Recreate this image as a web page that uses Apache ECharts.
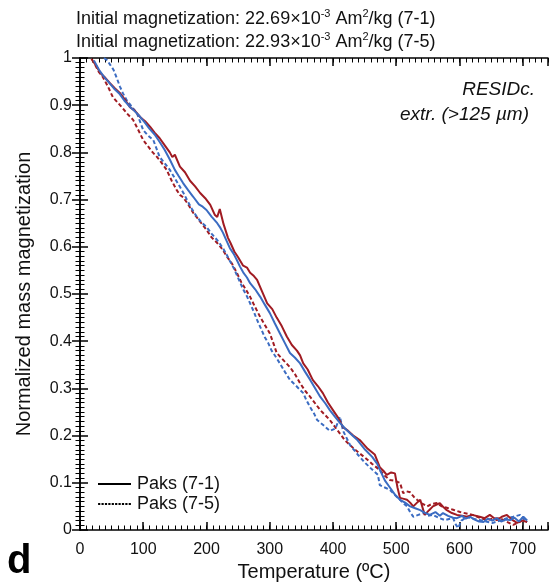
<!DOCTYPE html>
<html>
<head>
<meta charset="utf-8">
<script src="https://cdn.jsdelivr.net/npm/echarts@6/dist/echarts.min.js"></script>
<style>html,body{margin:0;padding:0;background:#fff;}#chart{width:553px;height:584px;}</style>
</head>
<body>
<div id="chart"></div>
<script>
// ---- data (temperature °C, normalized mass magnetization) ----
const paks71Red = [[18,0.998],[25,0.985],[32,0.968],[40,0.958],[47,0.947],[55,0.936],[63,0.926],[71,0.912],[79,0.896],[87,0.888],[95,0.875],[103,0.866],[111,0.854],[118,0.842],[126,0.83],[134,0.815],[142,0.8],[146,0.79],[150,0.795],[158,0.77],[166,0.758],[174,0.74],[182,0.728],[190,0.714],[198,0.703],[206,0.689],[213,0.668],[217,0.663],[221,0.68],[224,0.676],[227,0.648],[234,0.619],[238,0.608],[244,0.59],[250,0.578],[258,0.56],[264,0.556],[269,0.545],[275,0.538],[280,0.53],[288,0.505],[296,0.48],[304,0.468],[311,0.45],[319,0.432],[327,0.41],[335,0.392],[343,0.38],[348,0.37],[353,0.353],[360,0.34],[368,0.318],[376,0.305],[384,0.29],[392,0.27],[400,0.254],[408,0.238],[416,0.218],[424,0.21],[432,0.2],[443,0.19],[455,0.172],[466,0.16],[474,0.133],[480,0.125],[485,0.117],[492,0.122],[498,0.12],[502,0.09],[506,0.068],[512,0.066],[517,0.064],[522,0.058],[527,0.05],[533,0.058],[538,0.064],[545,0.032],[552,0.042],[558,0.05],[564,0.054],[569,0.057],[575,0.048],[580,0.042],[588,0.036],[596,0.032],[604,0.03],[612,0.028],[620,0.032],[632,0.028],[640,0.025],[648,0.032],[654,0.026],[659,0.021],[667,0.028],[675,0.032],[683,0.022],[691,0.015],[699,0.02],[707,0.017]];
const paks71Blue = [[22,0.995],[30,0.975],[38,0.96],[46,0.948],[54,0.935],[62,0.925],[70,0.91],[78,0.898],[86,0.888],[94,0.877],[102,0.864],[110,0.85],[118,0.838],[126,0.822],[134,0.805],[142,0.785],[150,0.763],[156,0.75],[163,0.735],[171,0.72],[179,0.706],[188,0.69],[194,0.685],[200,0.678],[208,0.664],[217,0.65],[222,0.64],[226,0.63],[232,0.612],[237,0.597],[243,0.585],[248,0.572],[253,0.558],[258,0.546],[264,0.535],[269,0.523],[277,0.51],[285,0.494],[292,0.478],[300,0.46],[308,0.438],[316,0.417],[324,0.396],[332,0.375],[340,0.365],[348,0.353],[356,0.335],[364,0.318],[372,0.3],[380,0.282],[388,0.268],[395,0.254],[403,0.24],[411,0.227],[419,0.215],[427,0.205],[439,0.19],[451,0.17],[462,0.155],[470,0.14],[474,0.128],[482,0.105],[490,0.09],[498,0.075],[506,0.064],[514,0.058],[522,0.05],[530,0.046],[538,0.042],[546,0.036],[553,0.032],[562,0.038],[569,0.03],[574,0.036],[582,0.03],[590,0.026],[596,0.025],[604,0.03],[610,0.024],[617,0.028],[624,0.022],[631,0.018],[638,0.017],[645,0.024],[652,0.02],[659,0.025],[666,0.018],[673,0.022],[680,0.021],[687,0.026],[694,0.018],[701,0.028],[707,0.02]];
const paks75Red = [[24,0.985],[30,0.97],[36,0.96],[44,0.94],[52,0.917],[60,0.905],[68,0.893],[74,0.883],[84,0.869],[92,0.848],[100,0.826],[108,0.812],[115,0.8],[122,0.79],[130,0.776],[137,0.763],[145,0.74],[153,0.72],[158,0.71],[163,0.705],[171,0.69],[179,0.672],[186,0.66],[193,0.648],[200,0.636],[208,0.62],[217,0.608],[225,0.595],[232,0.58],[240,0.565],[248,0.545],[255,0.525],[262,0.51],[269,0.494],[277,0.472],[285,0.451],[292,0.435],[300,0.417],[306,0.395],[311,0.375],[318,0.365],[325,0.355],[332,0.345],[340,0.33],[348,0.311],[356,0.295],[364,0.282],[372,0.268],[380,0.254],[388,0.243],[395,0.233],[405,0.215],[419,0.19],[435,0.17],[451,0.153],[462,0.14],[474,0.127],[482,0.115],[490,0.106],[498,0.104],[506,0.1],[511,0.078],[516,0.082],[522,0.08],[528,0.07],[533,0.064],[541,0.056],[549,0.05],[556,0.055],[564,0.057],[572,0.05],[580,0.047],[590,0.043],[601,0.038],[611,0.035],[621,0.032],[632,0.026],[643,0.021],[653,0.024],[664,0.025],[674,0.018],[685,0.011],[693,0.016],[701,0.021]];
const paks75Blue = [[38,1.0],[43,0.995],[48,0.985],[53,0.975],[58,0.958],[63,0.94],[68,0.925],[74,0.91],[82,0.897],[90,0.883],[95,0.865],[100,0.847],[108,0.835],[116,0.826],[121,0.808],[126,0.79],[134,0.777],[142,0.763],[150,0.745],[158,0.727],[164,0.713],[169,0.7],[177,0.68],[185,0.663],[192,0.652],[200,0.642],[208,0.628],[217,0.614],[222,0.605],[227,0.595],[232,0.583],[237,0.57],[243,0.555],[248,0.54],[253,0.525],[258,0.51],[264,0.495],[269,0.48],[275,0.462],[280,0.445],[286,0.427],[292,0.409],[298,0.395],[303,0.38],[310,0.366],[316,0.353],[324,0.335],[332,0.318],[342,0.305],[353,0.29],[358,0.275],[364,0.26],[370,0.247],[375,0.233],[385,0.222],[395,0.21],[404,0.215],[411,0.24],[416,0.21],[427,0.18],[439,0.16],[451,0.142],[462,0.128],[471,0.117],[474,0.095],[482,0.09],[490,0.085],[498,0.074],[506,0.064],[512,0.056],[517,0.05],[522,0.038],[527,0.028],[535,0.032],[543,0.036],[550,0.03],[558,0.032],[567,0.026],[577,0.021],[585,0.024],[590,0.025],[594,0.012],[598,0.004],[603,0.02],[612,0.028],[622,0.024],[632,0.021],[642,0.018],[653,0.015],[664,0.02],[675,0.025],[685,0.028],[696,0.032],[701,0.024],[707,0.017]];

const legendNames = ['Paks (7-1)', 'Paks (7-5)'];
const titleLines = [
  ['Initial magnetization: 22.69×10', '-3', ' Am', '2', '/kg (7-1)'],
  ['Initial magnetization: 22.93×10', '-3', ' Am', '2', '/kg (7-5)']
];
const sampleLabel = ['RESIDc.', 'extr. (>125 µm)'];
const xName = 'Temperature (ºC)';
const yName = 'Normalized mass magnetization';
const panelLetter = 'd';

// ---- styling ----
const FONT = '"Liberation Sans", Arial, Helvetica, sans-serif';
const RED = '#a01b22';
const BLUE = '#3b6cc2';
const INK = '#111';
const DASH = [4, 2.5];
const DOTTED_ICON = 'path://M0,0h2.2v2h-2.2zM3.4,0h2.2v2h-2.2zM6.8,0h2.2v2h-2.2zM10.2,0h2.2v2h-2.2zM13.6,0h2.2v2h-2.2zM17,0h2.2v2h-2.2zM20.4,0h2.2v2h-2.2zM23.8,0h2.2v2h-2.2zM27.2,0h2.2v2h-2.2zM30.6,0h2.2v2h-2.2z';

const chart = echarts.init(document.getElementById('chart'), null, {renderer: 'canvas'});

function titleText(parts) {
  return '{t|' + parts[0] + '}{s|' + parts[1] + '}{t|' + parts[2] + '}{s|' + parts[3] + '}{t|' + parts[4] + '}';
}
const titleRich = {
  t: {fontSize: 18, fontWeight: 'normal', fontFamily: FONT, color: INK, lineHeight: 22, verticalAlign: 'middle'},
  s: {fontSize: 11, fontWeight: 'normal', fontFamily: FONT, color: INK, lineHeight: 14, verticalAlign: 'top'}
};

const axLine = {show: true, lineStyle: {color: '#000', width: 1.5}};
const majorTick = {show: true, inside: true, length: 8, lineStyle: {color: '#000', width: 1.5}};
const minorTickX = {show: true, inside: true, length: 4.5, lineStyle: {color: '#000', width: 1}};

function xMajor(pos, labels) {
  return {
    type: 'value', position: pos, min: 0, max: 740, interval: 100,
    axisLine: axLine, axisTick: majorTick,
    axisLabel: {show: labels, margin: 12, fontSize: 16, fontFamily: FONT, color: INK,
      formatter: v => (v % 100 === 0 && v <= 700) ? String(v) : ''},
    splitLine: {show: false},
    name: labels ? xName : '', nameLocation: 'middle', nameGap: 31,
    nameTextStyle: {fontSize: 20, fontFamily: FONT, color: INK}
  };
}
function xMinor(pos) {
  return {
    type: 'value', position: pos, min: 0, max: 740, interval: 10,
    axisLine: {show: false}, axisTick: minorTickX, axisLabel: {show: false}, splitLine: {show: false}
  };
}
function yAx(pos, labels) {
  return {
    type: 'value', position: pos, min: 0, max: 1, interval: 0.1,
    axisLine: axLine, axisTick: majorTick,
    minorTick: {show: true, splitNumber: 10, length: 4.5, lineStyle: {color: '#000', width: 1}},
    axisLabel: {show: labels, margin: 8, fontSize: 16, fontFamily: FONT, color: INK},
    splitLine: {show: false}, minorSplitLine: {show: false},
    name: labels ? yName : '', nameLocation: 'middle', nameGap: 46,
    nameTextStyle: {fontSize: 20, fontFamily: FONT, color: INK}
  };
}

function dataSeries(name, data, color, dashed) {
  return {
    name: name, type: 'line', data: data, xAxisIndex: 0, yAxisIndex: 0,
    symbol: 'none', smooth: false, silent: true,
    lineStyle: {color: color, width: 2, type: dashed ? DASH : 'solid'},
    z: dashed ? 3 : 4
  };
}

const option = {
  backgroundColor: '#fff',
  animation: false,
  title: [
    {text: titleText(titleLines[0]), left: 76, top: 8, padding: 0, textStyle: {fontWeight: 'normal', rich: titleRich}},
    {text: titleText(titleLines[1]), left: 76, top: 31, padding: 0, textStyle: {fontWeight: 'normal', rich: titleRich}}
  ],
  grid: {left: 80, right: 5, top: 58, bottom: 54, containLabel: false, outerBoundsMode: 'none'},
  xAxis: [xMajor('bottom', true), xMinor('bottom'), xMajor('top', false), xMinor('top')],
  yAxis: [yAx('left', true), yAx('right', false)],
  legend: {
    data: [{name: legendNames[0], icon: 'rect'}, {name: legendNames[1], icon: DOTTED_ICON}],
    orient: 'vertical', left: 98, top: 474, padding: 0,
    itemWidth: 33, itemHeight: 2, itemGap: 0, selectedMode: false,
    textStyle: {fontSize: 18, fontFamily: FONT, color: INK, lineHeight: 20, padding: [0, 0, 0, 1]}
  },
  series: [
    dataSeries('p71r', paks71Red, RED, false),
    dataSeries('p71b', paks71Blue, BLUE, false),
    dataSeries('p75r', paks75Red, RED, true),
    dataSeries('p75b', paks75Blue, BLUE, true),
    {name: legendNames[0], type: 'line', data: [], symbol: 'none', lineStyle: {color: '#000', width: 1.5}, itemStyle: {color: '#000'}},
    {name: legendNames[1], type: 'line', data: [], symbol: 'none', lineStyle: {color: '#000', width: 1.5}, itemStyle: {color: '#000'}}
  ],
  graphic: [
    {type: 'text', x: 535, y: 90, style: {text: sampleLabel[0], font: 'italic 19px ' + FONT, fill: INK, align: 'right', verticalAlign: 'middle'}},
    {type: 'text', x: 529, y: 115, style: {text: sampleLabel[1], font: 'italic 19px ' + FONT, fill: INK, align: 'right', verticalAlign: 'middle'}},
    {type: 'text', x: 7, y: 562, style: {text: panelLetter, font: 'bold 40px ' + FONT, fill: '#000', align: 'left', verticalAlign: 'middle'}}
  ]
};
chart.setOption(option);
</script>
</body>
</html>
